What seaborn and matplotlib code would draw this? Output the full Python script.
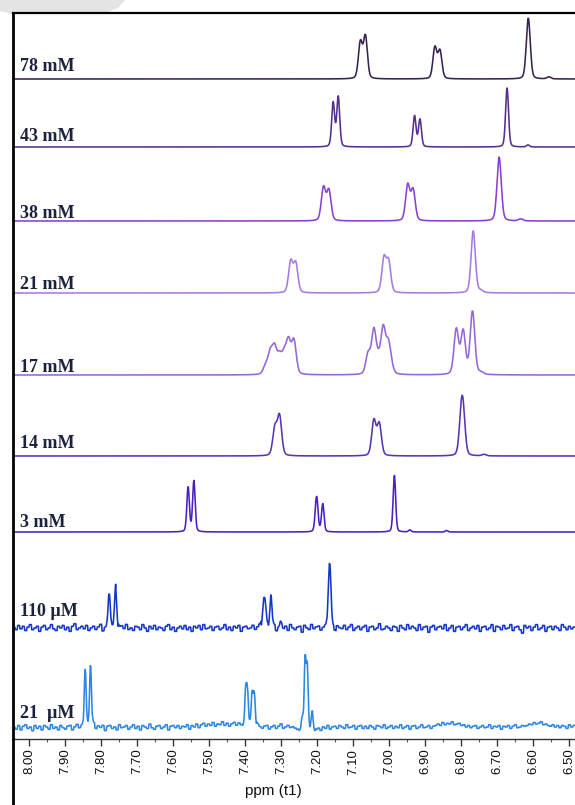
import numpy as np
import pandas as pd
import matplotlib
matplotlib.use("Agg")
import matplotlib.pyplot as plt
import matplotlib.transforms as mtransforms
from matplotlib.lines import Line2D
from matplotlib.patches import Polygon
from matplotlib.ticker import MultipleLocator, FormatStrFormatter
import seaborn as sns

sns.set_theme(style="white")
plt.rcParams['font.family'] = ['Liberation Sans', 'DejaVu Sans']

# ---------------- data ----------------
labels = ["78 mM", "43 mM", "38 mM", "21 mM", "17 mM", "14 mM", "3 mM", "110 \u00b5M", "21  \u00b5M"]
colors = ["#35244f", "#55308f", "#8a3fd6", "#a77ae0", "#9466da", "#5a33b5", "#4a1fc4", "#1436c8", "#2b87e3"]

# peak positions (ppm) and intensities (arbitrary units) per spectrum
ppm_78mM = [7.0795, 7.0655, 6.8725, 6.8585, 6.613, 6.556]
int_78mM = [36, 42, 31, 27.5, 61, 2]
ppm_43mM = [7.155, 7.141, 6.929, 6.914, 6.672, 6.614]
int_43mM = [44, 50, 31, 27.5, 59, 2]
ppm_38mM = [7.182, 7.167, 6.948, 6.933, 6.694, 6.634]
int_38mM = [33, 30, 35.5, 30.5, 64, 2]
ppm_21mM = [7.273, 7.259, 7.014, 7.001, 6.766, 6.745]
int_21mM = [31, 29, 34, 30.5, 62, 2]
ppm_17mM = [7.343, 7.330, 7.318, 7.304, 7.291, 7.279, 7.264,
            7.058, 7.042, 7.029, 7.016, 7.002, 6.994,
            6.813, 6.794, 6.768, 6.745]
int_17mM = [8, 20, 25, 17, 18, 31, 33,
            20, 43, 12, 44, 28, 6,
            45, 43, 63, 2]
ppm_14mM = [7.317, 7.304, 7.042, 7.027, 6.799, 6.794, 6.736]
int_14mM = [27, 39, 35, 31.5, 34, 33, 1.5]
ppm_3mM = [7.558, 7.542, 7.2025, 7.1995, 7.184, 6.985, 6.942, 6.840]
int_3mM = [45, 51, 20, 19, 28, 57, 2, 1.5]
ppm_110uM = [7.777, 7.759, 7.349, 7.344, 7.328, 7.301, 7.167, 7.163]
int_110uM = [36, 41, 22, 22, 32, 5, 40, 38]
ppm_21uM = [7.844, 7.829, 7.398, 7.393, 7.380, 7.374, 7.241, 7.233, 7.227, 7.213]
int_21uM = [60, 64, 34, 34, 33, 33, 10, 73, 62, 17]

# full width at half height of the lines (ppm), per spectrum
fwhm_ppm = [0.013, 0.0097, 0.014, 0.014, 0.015, 0.014, 0.0083, 0.007, 0.006]

# baseline noise of the two dilute spectra (relative units)
noise_110uM = [0.5, -1, 1.5, -0.5, 1, -1.5, 0.5, 2, -1, 0,
               1, -2, 0.5, 1.5, -1, 0, 2, -0.5, -1.5, 1,
               0, 1.5, -1, 0.5, -2, 1, 2.5, -1, 0, 1,
               -0.5, 1.5, -1.5, 0, 1, -1, 0.5, 2, -2, 0,
               1, -1, 0, 1.5, -2.5, 0.5, 1, -0.5, 2, -1,
               0, -1.5, 1, 0.5, -1, 2, 0, -2, 1, -0.5,
               1.5, -1, 0.5, 0, -1.5, 1, 2, -1, 0.5, -2,
               0, 1, -0.5, 1.5, -1, 0.5, -2, 1, 0, 1.5,
               -1, 2, -0.5, 0, 1, -1.5, 0.5, 1, -1, 0,
               2, -1, 0.5, -1.5, 1, 0, 1.5, -2, 0.5, 1,
               -0.5, 0, 1.5, -1, 0.5, 2, -1.5, 0, 1, -1,
               0.5, 1.5, -2, 0, 1, -0.5, 1, -1.5, 2, 0,
               -1, 0.5, 1, -2.5, 1.5, 0, -1, 2, -0.5, 0.5,
               1, -1.5, 0, 1, -1, 2, 0.5, -2, 1, 0,
               -0.5, 1.5, -1, 0.5, 2, -1.5, 0, 1, -1, 0.5,
               1.5, -2, 0.5, 1, -1, 0, 2.5, -1, -0.5, 1,
               0, -1.5, 1, 0.5, -2, 1.5, 0, -1, 2, -0.5,
               1, 0, -1.5, 2, -1, 0.5, 1, -2.5, 0.5, 1.5,
               -1, 0.5, 1, -0.5, 2, -1.5, 0, 1.5, -2, 0.5,
               1, -1, 0.5, 2, -1.5, 0, 1, -0.5, 1.5, -2,
               0.5, 1, -1, 0, 2, -2, 1, 0.5, -1, 1.5,
               -0.5, 0, 2, -1.5, 0.5, 1, -1, -3, 1.5, 0,
               1, -1.5, 0.5, 2, -1, 0, 1.5, -2, 0.5, 1,
               -1, 1, 0, -1.5, 2, 0.5, -1, 1, -0.5, 0.5]
noise_21uM = [0, -1.5, 1, -2, 0.5, 1.5, -1, 0, -2.5, 1,
              -1, 0.5, -2, 1, 0, -1.5, 1.5, -1, 0, -2,
              1, -0.5, -1.5, 0.5, 1, -2, 0, 1.5, -1, 0.5,
              -2, 1, 0, -1, 2, -1.5, 0.5, -0.5, 1, -2.5,
              0.5, 1, -1, 0, -2, 1.5, -0.5, 0, 1, -1.5,
              0, 1.5, -1, 0.5, -2, 1, 0, -1, 2, -0.5,
              -1.5, 0.5, 1, -1, 0, 1.5, -2, 0.5, 1, -0.5,
              1, -1, 0.5, 0, 1.5, -1.5, 1, 0, 2, -0.5,
              1.5, 2.5, 0.5, 2, 1, 3, 0.5, 2, 1.5, 3.5,
              1, 2.5, 0.5, 2, 3, 1, 2.5, 1, 0, 1.5,
              -0.5, 1, 0, -1, 1.5, 0, -1, 0.5, 1, -1.5,
              0, 1, -1, 0.5, 2, -1, 0, 1, -0.5, 0,
              -1, -2, -3, -1.5, -4, -2.5, -3, -1, -3.5, -2,
              -1, -2.5, 0, -1, 1, -1.5, 0, 0.5, -1, 1,
              0, -1, 1.5, -0.5, 0, 1, -1.5, 0.5, 1, -1,
              0.5, -1, 1, 0, -1.5, 1, 0.5, -0.5, 1.5, -1,
              0, 1, -1, 0.5, -0.5, 1.5, -1, 0, 1, -1.5,
              0.5, 1, -1, 0, 1.5, -0.5, 0, 1, -1, 0.5,
              1, 2, 1, 3, 1.5, 2.5, 2, 3.5, 1.5, 2,
              2.5, 1, 1.5, 0, 1, -0.5, 0.5, 1, -1, 0,
              1, -0.5, 0, 1.5, -1, 0.5, 0, 1, -1.5, 0.5,
              0, 1, -1, 0.5, 1.5, -0.5, 0, 1, 0.5, 1,
              2, 1.5, 3, 2, 2.5, 3.5, 1.5, 2, 1, 0.5,
              1.5, 0, 1, -0.5, 1, 0.5, -1, 1.5, 0, 1]
noise_amplitude = [0, 0, 0, 0, 0, 0, 0, 1.7, 1.5]

tick_values = [8.00, 7.90, 7.80, 7.70, 7.60, 7.50, 7.40, 7.30, 7.20, 7.10,
               7.00, 6.90, 6.80, 6.70, 6.60, 6.50]

# ---------------- layout ----------------
offsets = [660, 592, 518, 446, 364, 283, 207, 111, 12]
label_y = [668, 598, 520.7, 449.7, 367.3, 290.7, 212.3, 123, 20.7]
xlim = (8.0444, 6.4833)
lorentz_fraction = 0.25

ppm_lists = [ppm_78mM, ppm_43mM, ppm_38mM, ppm_21mM, ppm_17mM, ppm_14mM, ppm_3mM, ppm_110uM, ppm_21uM]
int_lists = [int_78mM, int_43mM, int_38mM, int_21mM, int_17mM, int_14mM, int_3mM, int_110uM, int_21uM]
noise_lists = [None] * 7 + [noise_110uM, noise_21uM]

rep = 5
grid = np.linspace(xlim[0], xlim[1], len(noise_110uM) * rep)

frames = []
for lab, pp, ii, f, off, nz, na in zip(labels, ppm_lists, int_lists, fwhm_ppm, offsets,
                                       noise_lists, noise_amplitude):
    y = np.zeros_like(grid)
    for p, h in zip(pp, ii):
        u = 4.0 * ((grid - p) / f) ** 2
        y += h * ((1 - lorentz_fraction) * np.exp(-np.log(2) * u) + lorentz_fraction / (1.0 + u))
    if nz is not None:
        y += na * np.repeat(np.asarray(nz, float), rep)
    frames.append(pd.DataFrame({"ppm": grid, "y": y + off, "spectrum": lab}))
df = pd.concat(frames, ignore_index=True)

# ---------------- figure ----------------
W, H = 575, 805
fig = plt.figure(figsize=(W / 100, H / 100), dpi=100)
ax = fig.add_axes([13 / W, 66 / H, (W - 13) / W, 726 / H])

sns.lineplot(data=df, x="ppm", y="y", hue="spectrum", hue_order=labels,
             palette=dict(zip(labels, colors)), estimator=None, sort=False,
             legend=False, linewidth=1.15, ax=ax)

ax.set_xlim(*xlim)
ax.set_ylim(0, 726)
ax.set_yticks([])
ax.set_ylabel("")
ax.set_xticks(tick_values)
ax.xaxis.set_major_formatter(FormatStrFormatter("%.2f"))
ax.xaxis.set_minor_locator(MultipleLocator(0.05))
ax.tick_params(axis="x", which="major", direction="out", length=5, width=1,
               color="#333333", labelsize=9.5, pad=2, labelrotation=90,
               labelcolor="#111111", bottom=True)
ax.tick_params(axis="x", which="minor", direction="out", length=2.5, width=0.8,
               color="#555555", bottom=True)
ax.set_xlabel("ppm (t1)", fontsize=11, color="#111111")
ax.xaxis.set_label_coords((273 - 13) / (W - 13), -0.062)

ax.spines["right"].set_visible(False)
ax.spines["left"].set_color("black")
ax.spines["left"].set_linewidth(2.0)
ax.spines["top"].set_color("black")
ax.spines["top"].set_linewidth(1.6)
ax.spines["bottom"].set_color("#333333")
ax.spines["bottom"].set_linewidth(1.0)

# left frame line continuing below the axis
fig.add_artist(Line2D([13 / W, 13 / W], [0, 66 / H], transform=fig.transFigure,
                      color="black", lw=2.0))

# faint watermark shape
fig.add_artist(Polygon([(0, 1), (125 / W, 1), (118 / W, 1 - 8 / H), (95 / W, 1 - 17 / H),
                        (60 / W, 1 - 21 / H), (25 / W, 1 - 17 / H), (0, 1 - 11 / H)],
                       closed=True, transform=fig.transFigure, facecolor="#e4e4e4",
                       edgecolor="none", zorder=0))

trans = mtransforms.blended_transform_factory(ax.transAxes, ax.transData)
for lab, ly in zip(labels, label_y):
    ax.text((20.5 - 13) / (W - 13), ly, lab, transform=trans, ha="left", va="baseline",
            fontsize=13, fontweight="bold", color="#1b2240",
            family=["Liberation Serif", "DejaVu Serif"])

fig.savefig("out.png", dpi=100)
